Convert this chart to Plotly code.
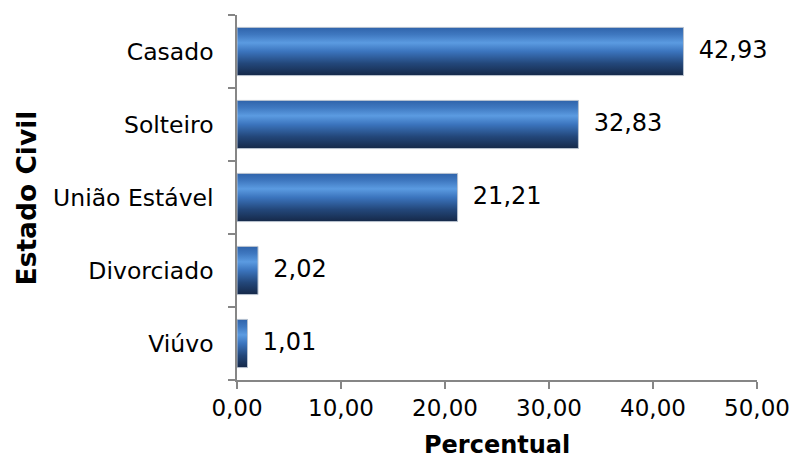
import plotly.graph_objects as go

# Estado civil dos respondentes (%)
categorias = ["Casado", "Solteiro", "União Estável", "Divorciado", "Viúvo"]
percentuais = [42.93, 32.83, 21.21, 2.02, 1.01]
x_ticks = [0, 10, 20, 30, 40, 50]

FONT = "DejaVu Sans"
AXIS_COLOR = "#868686"
HALF = 0.33  # half bar thickness in category units

n = len(categorias)
pos = [n - 1 - i for i in range(n)]  # first category on top

fig = go.Figure()

# bars drawn as filled shapes so they can carry a vertical gradient
for p, v in zip(pos, percentuais):
    fig.add_trace(go.Scatter(
        x=[0, v, v, 0, 0],
        y=[p - HALF, p - HALF, p + HALF, p + HALF, p - HALF],
        mode="lines",
        fill="toself",
        line=dict(color="#b8c2cf", width=1),
        fillgradient=dict(
            type="vertical",
            colorscale=[
                [0.0, "#152848"],
                [0.25, "#23477a"],
                [0.5, "#3b74bd"],
                [0.68, "#5b9be1"],
                [0.85, "#3f78c0"],
                [1.0, "#2f63aa"],
            ],
        ),
        hoverinfo="skip",
        showlegend=False,
    ))

# value labels, padded away from the bar end
fig.add_trace(go.Scatter(
    x=percentuais,
    y=pos,
    mode="text",
    text=["  " + f"{v:.2f}".replace(".", ",") for v in percentuais],
    textposition="middle right",
    textfont=dict(family=FONT, size=24, color="#000000"),
    cliponaxis=False,
    showlegend=False,
    hoverinfo="skip",
))

fig.update_layout(
    width=793,
    height=459,
    margin=dict(l=237, r=36, t=15, b=79, autoexpand=False),
    paper_bgcolor="white",
    plot_bgcolor="white",
    separators=",.",
    font=dict(family=FONT, size=24, color="#000000"),
    xaxis=dict(
        range=[0, 50],
        tickvals=x_ticks,
        tickformat=".2f",
        ticks="outside",
        ticklen=7,
        tickcolor=AXIS_COLOR,
        tickwidth=1.5,
        showline=True,
        linecolor=AXIS_COLOR,
        linewidth=1.5,
        showgrid=False,
        zeroline=False,
        automargin=False,
        tickfont=dict(family=FONT, size=23),
    ),
    yaxis=dict(
        range=[-0.5, n - 0.5],
        tickvals=pos,
        ticktext=categorias,
        ticks="",
        ticklabelstandoff=17,
        showline=True,
        linecolor=AXIS_COLOR,
        linewidth=1.5,
        showgrid=False,
        zeroline=False,
        automargin=False,
        tickfont=dict(family=FONT, size=23.5),
        minor=dict(
            tickvals=[i - 0.5 for i in range(n + 1)],
            ticks="outside",
            ticklen=7,
            tickcolor=AXIS_COLOR,
            tickwidth=1.5,
            showgrid=False,
        ),
    ),
    annotations=[
        dict(
            text="<b>Percentual</b>",
            xref="paper", yref="paper",
            x=0.5, y=-0.178,
            xanchor="center", yanchor="middle",
            showarrow=False,
            font=dict(family=FONT, size=24),
        ),
        dict(
            text="<b>Estado Civil</b>",
            xref="paper", yref="paper",
            x=-0.404, y=0.5,
            xanchor="center", yanchor="middle",
            textangle=-90,
            showarrow=False,
            font=dict(family=FONT, size=26.5),
        ),
    ],
)

fig.write_html("out.html")
